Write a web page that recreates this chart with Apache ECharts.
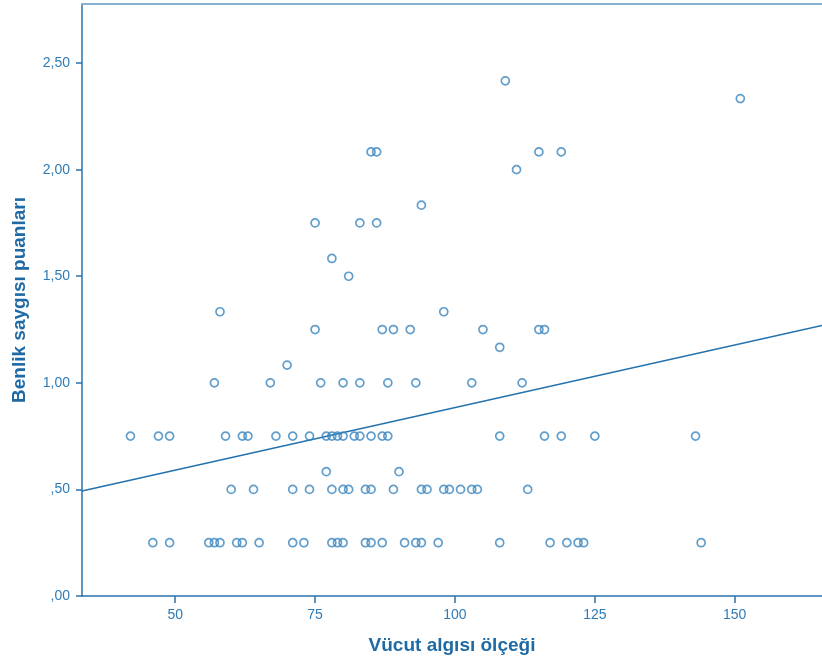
<!DOCTYPE html>
<html>
<head>
<meta charset="utf-8">
<script src="https://cdn.jsdelivr.net/npm/echarts@6/dist/echarts.min.js"></script>
<style>
  html, body { margin: 0; padding: 0; background: #fff; }
  #chart { width: 822px; height: 666px; }
</style>
</head>
<body>
<div id="chart"></div>
<script>
  // x values per y level (Benlik saygısı puanları)
  const yLevels = [0.25, 0.5, 0.5833, 0.75, 1.0, 1.0833, 1.1667, 1.25, 1.3333, 1.5, 1.5833, 1.75, 1.8333, 2.0, 2.0833, 2.3333, 2.4167];
  const xAtLevel = [
    [46, 49, 56, 57, 58, 61, 62, 65, 71, 73, 78, 79, 80, 84, 85, 87, 91, 93, 94, 97, 108, 117, 120, 122, 123, 144],
    [60, 64, 71, 74, 78, 80, 81, 84, 85, 89, 94, 95, 98, 99, 101, 103, 104, 113],
    [77, 90],
    [42, 47, 49, 59, 62, 63, 68, 71, 74, 77, 78, 79, 80, 82, 83, 85, 87, 88, 108, 116, 119, 125, 143],
    [57, 67, 76, 80, 83, 88, 93, 103, 112],
    [70],
    [108],
    [75, 87, 89, 92, 105, 115, 116],
    [58, 98],
    [81],
    [78],
    [75, 83, 86],
    [94],
    [111],
    [85, 86, 115, 119],
    [151],
    [109]
  ];

  // linear fit line
  const fitIntercept = 0.297;
  const fitSlope = 0.00587;

  const xMin = 33.34, xMax = 165.6;
  const yMin = 0, yMax = 2.777;
  const xTicks = [50, 75, 100, 125, 150];
  const yTicks = [0, 0.5, 1, 1.5, 2, 2.5];

  const points = [];
  yLevels.forEach((y, i) => {
    xAtLevel[i].forEach(x => points.push([x, y]));
  });
  const fitLine = [xMin, xMax].map(x => [x, fitIntercept + fitSlope * x]);

  const axisColor = '#2a72ad';
  const labelColor = '#2f7bb5';
  const font = '"Liberation Sans", Arial, sans-serif';

  function fmtY(v) {
    let s = v.toFixed(2).replace('.', ',');
    if (s.startsWith('0')) s = s.slice(1);
    return s;
  }

  const chart = echarts.init(document.getElementById('chart'));
  chart.setOption({
    animation: false,
    backgroundColor: '#fff',
    grid: { left: 82, right: 0, top: 4, bottom: 70, containLabel: false, outerBoundsMode: 'none' },
    xAxis: [{
      type: 'value',
      min: xMin,
      max: xMax,
      name: 'Vücut algısı ölçeği',
      nameLocation: 'middle',
      nameGap: 40,
      nameTextStyle: { color: '#1f6aa5', fontSize: 19, fontWeight: 'bold', fontFamily: font },
      axisLine: { show: true, onZero: false, lineStyle: { color: axisColor, width: 1.5 } },
      axisTick: { show: true, length: 7, customValues: xTicks, lineStyle: { color: axisColor, width: 1.5 } },
      axisLabel: { customValues: xTicks, margin: 12, color: labelColor, fontSize: 14, fontFamily: font },
      splitLine: { show: false }
    }, {
      type: 'value',
      position: 'top',
      min: xMin,
      max: xMax,
      axisLine: { show: true, onZero: false, lineStyle: { color: '#86b3d4', width: 2 } },
      axisTick: { show: false },
      axisLabel: { show: false },
      splitLine: { show: false }
    }],
    yAxis: {
      type: 'value',
      min: yMin,
      max: yMax,
      name: 'Benlik saygısı puanları',
      nameLocation: 'middle',
      nameGap: 53,
      nameTextStyle: { color: '#1f6aa5', fontSize: 19, fontWeight: 'bold', fontFamily: font },
      axisLine: { show: true, onZero: false, lineStyle: { color: axisColor, width: 1.5 } },
      axisTick: { show: true, length: 6, customValues: yTicks, lineStyle: { color: axisColor, width: 1.5 } },
      axisLabel: { customValues: yTicks, margin: 12, color: labelColor, fontSize: 14, fontFamily: font, formatter: fmtY },
      splitLine: { show: false }
    },
    series: [{
      type: 'scatter',
      data: points,
      symbol: 'circle',
      symbolSize: 8,
      itemStyle: { color: 'rgba(0,0,0,0)', borderColor: '#3a86bf', borderWidth: 1.7 },
      z: 3
    }, {
      type: 'line',
      data: fitLine,
      symbol: 'none',
      lineStyle: { color: '#2372ad', width: 1.6 },
      z: 2
    }]
  });
</script>
</body>
</html>
